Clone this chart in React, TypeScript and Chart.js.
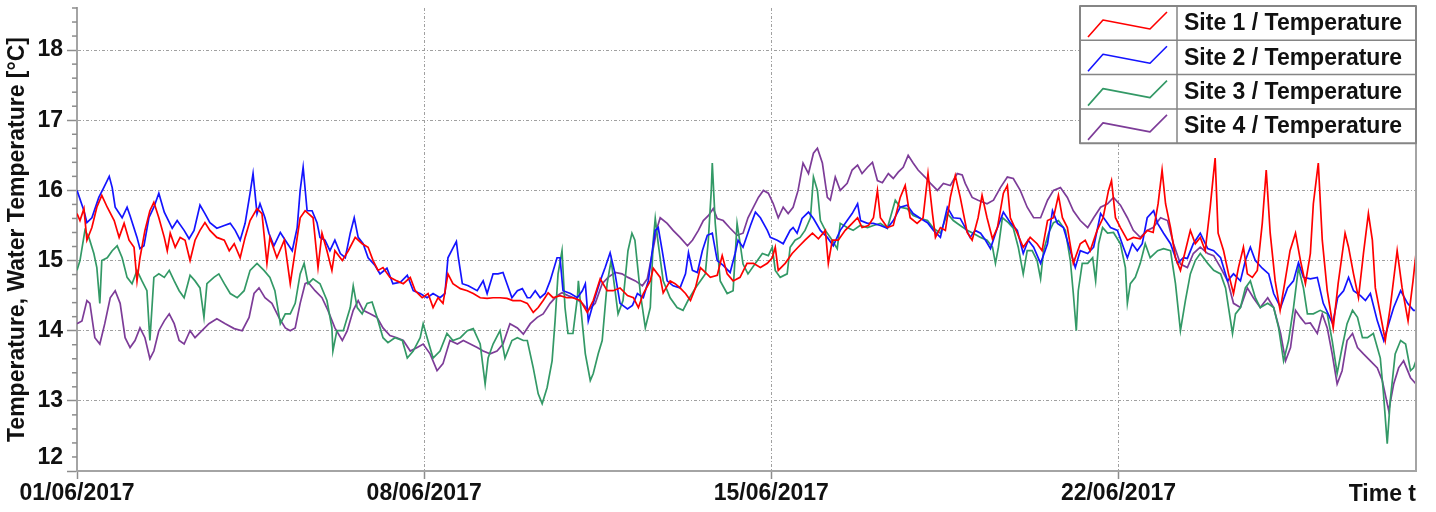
import { useEffect, useRef } from 'react';
import { Chart, registerables } from 'chart.js';

Chart.register(...registerables);

const FONT = "'Liberation Sans', Arial, Helvetica, sans-serif";

// x = days since 01/06/2017 00:00, y = temperature in °C
const xTickDays = [0, 7, 14, 21];
const xTickLabels = ['01/06/2017', '08/06/2017', '15/06/2017', '22/06/2017'];
const xAxisEndLabel = 'Time t';
const yTickValues = [12, 13, 14, 15, 16, 17, 18];
const yAxisTitle = 'Temperature, Water Temperature [°C]';
const seriesNames = ['Site 1 / Temperature', 'Site 2 / Temperature', 'Site 3 / Temperature', 'Site 4 / Temperature'];
const seriesColors = ['#ff0000', '#1414ff', '#339966', '#7d3c98'];

const site1 = [[0,15.67],[0.06,15.57],[0.14,15.74],[0.2,15.29],[0.3,15.47],[0.4,15.76],[0.5,15.93],[0.61,15.76],[0.75,15.57],[0.85,15.33],[0.95,15.53],[1.05,15.29],[1.15,15.19],[1.21,14.71],[1.27,15.04],[1.37,15.43],[1.47,15.71],[1.55,15.83],[1.65,15.61],[1.76,15.33],[1.82,15.14],[1.88,15.39],[1.98,15.19],[2.08,15.33],[2.18,15.29],[2.28,15.0],[2.38,15.29],[2.48,15.43],[2.58,15.54],[2.68,15.43],[2.82,15.33],[2.97,15.29],[3.07,15.14],[3.17,15.24],[3.29,15.04],[3.39,15.33],[3.49,15.57],[3.63,15.74],[3.73,15.67],[3.83,14.96],[3.89,15.33],[4.03,15.04],[4.18,15.29],[4.3,14.67],[4.4,15.14],[4.5,15.61],[4.6,15.71],[4.76,15.61],[4.86,14.9],[4.94,15.39],[5.04,15.14],[5.14,14.86],[5.2,15.14],[5.35,15.0],[5.47,15.14],[5.61,15.33],[5.75,15.24],[5.87,15.19],[5.97,15.0],[6.07,14.86],[6.17,14.9],[6.31,14.76],[6.45,14.71],[6.58,14.67],[6.72,14.76],[6.82,14.57],[6.96,14.47],[7.08,14.53],[7.18,14.33],[7.28,14.47],[7.38,14.39],[7.48,14.81],[7.58,14.67],[7.73,14.6],[7.87,14.57],[7.99,14.53],[8.13,14.47],[8.27,14.46],[8.39,14.47],[8.53,14.47],[8.67,14.46],[8.79,14.43],[8.94,14.43],[9.08,14.39],[9.2,14.26],[9.3,14.33],[9.4,14.43],[9.5,14.54],[9.6,14.47],[9.74,14.5],[9.88,14.47],[10.0,14.47],[10.15,14.43],[10.29,14.26],[10.41,14.43],[10.55,14.74],[10.69,14.57],[10.81,14.57],[10.95,14.61],[11.1,14.5],[11.22,14.47],[11.32,14.33],[11.42,14.53],[11.56,14.71],[11.62,14.89],[11.76,14.76],[11.82,14.54],[11.96,14.71],[12.06,14.67],[12.16,14.61],[12.27,14.53],[12.37,14.43],[12.47,14.61],[12.57,14.9],[12.67,14.83],[12.77,14.76],[12.91,14.79],[13.01,15.07],[13.11,14.81],[13.23,14.71],[13.37,14.76],[13.51,14.96],[13.64,14.96],[13.78,14.9],[13.92,14.96],[14.02,15.04],[14.08,15.19],[14.14,14.86],[14.28,14.96],[14.42,15.1],[14.54,15.19],[14.68,15.29],[14.83,15.39],[14.95,15.31],[15.09,15.43],[15.15,14.96],[15.23,15.29],[15.35,15.29],[15.49,15.43],[15.63,15.53],[15.74,15.61],[15.83,15.47],[15.96,15.5],[16.06,15.61],[16.14,16.0],[16.2,15.61],[16.34,15.47],[16.46,15.5],[16.6,15.9],[16.7,16.07],[16.8,15.61],[16.94,15.53],[17.06,15.61],[17.16,16.24],[17.25,15.67],[17.31,15.33],[17.41,15.47],[17.51,15.43],[17.61,15.9],[17.71,16.21],[17.81,15.9],[17.95,15.4],[18.05,15.29],[18.17,15.61],[18.25,15.93],[18.35,15.61],[18.46,15.31],[18.56,15.47],[18.68,15.96],[18.76,16.07],[18.82,15.61],[18.96,15.39],[19.08,15.19],[19.22,15.33],[19.36,15.24],[19.46,15.14],[19.57,15.57],[19.69,15.61],[19.79,15.93],[19.87,15.61],[19.97,15.47],[20.09,14.96],[20.23,15.24],[20.33,15.29],[20.43,15.14],[20.57,15.43],[20.69,15.61],[20.8,16.0],[20.86,16.14],[20.94,15.61],[21.04,15.47],[21.18,15.29],[21.3,15.33],[21.44,15.31],[21.58,15.43],[21.7,15.4],[21.8,15.81],[21.88,16.29],[21.95,15.81],[22.05,15.47],[22.15,15.04],[22.25,14.86],[22.35,15.14],[22.45,15.43],[22.55,15.24],[22.65,15.33],[22.75,15.14],[22.85,15.76],[22.91,16.19],[22.95,16.46],[23.01,15.39],[23.12,15.14],[23.22,14.81],[23.32,14.53],[23.42,14.9],[23.52,15.19],[23.6,14.81],[23.7,14.76],[23.8,14.86],[23.9,15.53],[23.98,16.29],[24.06,15.39],[24.16,14.71],[24.26,14.29],[24.36,14.71],[24.46,15.14],[24.57,15.39],[24.67,15.0],[24.77,14.67],[24.87,15.1],[24.93,15.81],[25.03,16.39],[25.11,15.29],[25.21,14.57],[25.33,14.04],[25.43,14.67],[25.57,15.39],[25.64,15.19],[25.74,14.81],[25.84,14.47],[25.94,15.1],[26.04,15.67],[26.12,15.29],[26.18,14.61],[26.28,14.24],[26.38,13.86],[26.48,14.33],[26.62,15.14],[26.72,14.61],[26.84,14.14],[26.94,14.71],[27,15.1]];

const site2 = [[0,16.0],[0.14,15.71],[0.2,15.54],[0.3,15.61],[0.44,15.9],[0.54,16.04],[0.65,16.2],[0.71,16.04],[0.77,15.76],[0.91,15.61],[1.01,15.76],[1.07,15.64],[1.21,15.33],[1.27,15.17],[1.35,15.21],[1.45,15.61],[1.55,15.76],[1.65,15.96],[1.76,15.69],[1.92,15.46],[2.02,15.57],[2.16,15.43],[2.26,15.31],[2.36,15.43],[2.48,15.79],[2.58,15.67],[2.68,15.54],[2.82,15.46],[2.97,15.5],[3.09,15.53],[3.19,15.43],[3.29,15.29],[3.39,15.53],[3.49,15.96],[3.55,16.24],[3.63,15.67],[3.69,15.81],[3.79,15.61],[3.87,15.39],[3.97,15.21],[4.1,15.4],[4.2,15.29],[4.34,15.14],[4.44,15.47],[4.5,16.0],[4.56,16.33],[4.64,15.71],[4.74,15.71],[4.84,15.54],[4.9,15.33],[5,15.29],[5.1,15.14],[5.2,15.29],[5.31,15.1],[5.41,15.04],[5.51,15.39],[5.59,15.61],[5.67,15.33],[5.77,15.24],[5.87,15.04],[6.01,14.93],[6.11,14.81],[6.25,14.89],[6.37,14.67],[6.52,14.69],[6.66,14.79],[6.78,14.57],[6.92,14.53],[7.06,14.47],[7.18,14.53],[7.32,14.47],[7.42,14.53],[7.48,15.04],[7.59,15.19],[7.65,15.27],[7.69,15.04],[7.77,14.67],[7.89,14.64],[8.07,14.57],[8.19,14.71],[8.27,14.53],[8.39,14.81],[8.49,14.81],[8.59,14.83],[8.67,14.67],[8.77,14.47],[8.88,14.57],[8.98,14.6],[9.08,14.47],[9.14,14.47],[9.24,14.57],[9.34,14.47],[9.44,14.53],[9.54,14.71],[9.68,15.04],[9.74,15.04],[9.8,14.57],[9.95,14.53],[10.09,14.47],[10.19,14.57],[10.25,14.67],[10.31,14.14],[10.41,14.39],[10.55,14.71],[10.65,14.9],[10.75,15.11],[10.85,14.81],[10.95,14.39],[11.1,14.31],[11.2,14.36],[11.3,14.53],[11.42,14.47],[11.52,14.71],[11.6,15.14],[11.66,15.43],[11.72,15.47],[11.8,15.14],[11.9,14.71],[12.02,14.64],[12.16,14.61],[12.27,14.81],[12.33,15.11],[12.41,14.86],[12.51,14.83],[12.61,15.14],[12.71,15.36],[12.81,15.39],[12.91,15.0],[13.03,14.93],[13.17,14.83],[13.27,15.1],[13.33,15.29],[13.43,15.19],[13.58,15.5],[13.68,15.69],[13.78,15.61],[13.92,15.43],[13.98,15.33],[14.12,15.29],[14.24,15.24],[14.38,15.43],[14.44,15.47],[14.52,15.39],[14.62,15.6],[14.75,15.69],[14.85,15.6],[14.99,15.43],[15.13,15.33],[15.25,15.21],[15.39,15.43],[15.53,15.57],[15.63,15.67],[15.74,15.81],[15.8,15.57],[15.94,15.53],[16.06,15.53],[16.2,15.5],[16.34,15.46],[16.46,15.57],[16.6,15.76],[16.74,15.79],[16.86,15.67],[17.01,15.6],[17.15,15.54],[17.27,15.43],[17.41,15.33],[17.55,15.76],[17.67,15.61],[17.81,15.6],[17.91,15.47],[18.01,15.33],[18.11,15.43],[18.22,15.39],[18.32,15.29],[18.42,15.17],[18.56,15.47],[18.68,15.69],[18.82,15.54],[18.96,15.43],[19.08,15.1],[19.18,15.29],[19.29,15.19],[19.43,14.96],[19.57,15.24],[19.67,15.71],[19.77,15.53],[19.89,15.47],[20.03,15.14],[20.13,14.9],[20.23,15.14],[20.38,15.1],[20.5,15.19],[20.64,15.67],[20.74,15.57],[20.84,15.47],[20.98,15.43],[21.1,15.19],[21.18,15.04],[21.28,15.24],[21.38,15.14],[21.48,15.24],[21.58,15.61],[21.71,15.71],[21.79,15.53],[21.91,15.39],[22.05,15.24],[22.19,14.96],[22.31,15.04],[22.39,15.03],[22.51,15.24],[22.65,15.39],[22.8,15.17],[22.92,15.14],[23.06,15.04],[23.2,14.71],[23.32,14.81],[23.46,14.71],[23.56,15.0],[23.66,15.19],[23.76,15.0],[23.9,14.89],[24.03,14.81],[24.13,14.53],[24.27,14.33],[24.41,14.61],[24.53,14.71],[24.63,14.97],[24.73,14.76],[24.87,14.74],[25.01,14.76],[25.13,14.39],[25.32,14.1],[25.42,14.47],[25.54,14.57],[25.64,14.76],[25.74,14.57],[25.88,14.5],[25.98,14.43],[26.08,14.53],[26.22,14.14],[26.35,13.86],[26.45,14.1],[26.55,14.33],[26.69,14.57],[26.83,14.39],[26.95,14.29],[27,14.29]];

const site3 = [[0,14.86],[0.06,15.0],[0.16,15.43],[0.24,15.33],[0.34,15.1],[0.4,14.9],[0.46,14.39],[0.5,15.0],[0.61,15.04],[0.71,15.14],[0.81,15.21],[0.91,15.04],[1.01,14.76],[1.11,14.67],[1.21,14.86],[1.31,14.71],[1.41,14.57],[1.47,13.86],[1.55,14.76],[1.65,14.81],[1.76,14.76],[1.86,14.86],[1.96,14.71],[2.06,14.57],[2.16,14.47],[2.28,14.79],[2.38,14.71],[2.48,14.61],[2.56,14.19],[2.62,14.67],[2.76,14.76],[2.86,14.81],[2.97,14.67],[3.09,14.53],[3.23,14.47],[3.37,14.57],[3.49,14.86],[3.63,14.96],[3.77,14.86],[3.89,14.76],[3.99,14.57],[4.1,14.1],[4.2,14.24],[4.3,14.24],[4.4,14.39],[4.5,14.81],[4.58,14.96],[4.66,14.67],[4.76,14.74],[4.9,14.67],[5.04,14.43],[5.14,14.04],[5.16,13.71],[5.24,14.0],[5.37,14.0],[5.51,14.33],[5.57,14.64],[5.65,14.33],[5.75,14.24],[5.85,14.39],[5.95,14.41],[6.05,14.19],[6.17,13.9],[6.27,13.83],[6.41,13.9],[6.56,13.86],[6.66,13.61],[6.78,13.71],[6.92,13.9],[6.98,14.1],[7.06,13.9],[7.18,13.61],[7.32,13.71],[7.46,13.96],[7.58,13.86],[7.73,13.9],[7.87,14.0],[7.99,14.03],[8.13,13.81],[8.23,13.24],[8.29,13.61],[8.39,13.81],[8.53,14.0],[8.63,13.61],[8.77,13.86],[8.88,13.9],[9.0,13.86],[9.08,13.86],[9.2,13.47],[9.3,13.1],[9.38,12.96],[9.48,13.19],[9.58,13.57],[9.64,14.14],[9.7,14.81],[9.78,15.14],[9.84,14.33],[9.9,13.96],[10.0,13.96],[10.09,14.47],[10.11,14.71],[10.19,14.1],[10.25,13.67],[10.35,13.29],[10.41,13.39],[10.51,13.67],[10.59,13.86],[10.69,14.67],[10.77,15.0],[10.85,14.57],[10.91,14.24],[11.01,14.43],[11.11,15.14],[11.19,15.39],[11.25,15.29],[11.36,14.53],[11.46,14.04],[11.56,14.33],[11.62,15.29],[11.66,15.6],[11.72,15.24],[11.82,14.71],[11.96,14.47],[12.1,14.33],[12.22,14.29],[12.32,14.43],[12.47,14.61],[12.57,14.71],[12.67,14.81],[12.73,15.29],[12.79,16.0],[12.81,16.39],[12.87,15.53],[12.97,14.71],[13.11,14.53],[13.23,14.57],[13.31,15.53],[13.37,15.25],[13.43,14.95],[13.53,14.81],[13.68,14.96],[13.82,15.1],[13.94,15.07],[14.02,15.19],[14.08,14.86],[14.18,14.76],[14.32,14.81],[14.38,15.19],[14.48,15.29],[14.58,15.33],[14.68,15.43],[14.79,15.61],[14.85,16.19],[14.93,16.0],[14.99,15.57],[15.09,15.43],[15.19,15.33],[15.33,15.17],[15.39,15.53],[15.53,15.47],[15.65,15.43],[15.79,15.5],[15.94,15.47],[16.06,15.5],[16.2,15.53],[16.34,15.46],[16.44,15.71],[16.5,15.86],[16.6,15.76],[16.74,15.74],[16.86,15.64],[17.01,15.6],[17.15,15.57],[17.27,15.46],[17.41,15.39],[17.55,15.67],[17.67,15.57],[17.81,15.5],[17.95,15.43],[18.07,15.39],[18.22,15.33],[18.35,15.29],[18.46,15.19],[18.52,14.96],[18.58,15.19],[18.66,15.61],[18.78,15.54],[18.88,15.46],[18.98,15.19],[19.08,14.81],[19.16,15.14],[19.26,15.14],[19.36,15.0],[19.43,14.74],[19.49,15.14],[19.59,15.39],[19.69,15.54],[19.79,15.57],[19.93,15.43],[20.03,15.0],[20.09,14.53],[20.15,14.0],[20.19,14.57],[20.27,14.96],[20.38,14.96],[20.48,15.04],[20.54,14.71],[20.6,15.24],[20.68,15.47],[20.78,15.39],[20.9,15.4],[21.04,15.24],[21.14,14.9],[21.18,14.39],[21.24,14.67],[21.34,14.76],[21.44,14.96],[21.54,15.24],[21.64,15.04],[21.79,15.14],[21.91,15.17],[22.05,15.14],[22.15,14.67],[22.25,14.0],[22.35,14.43],[22.45,14.81],[22.55,15.0],[22.65,15.1],[22.8,14.96],[22.92,14.86],[23.06,14.81],[23.16,14.61],[23.22,14.33],[23.3,13.96],[23.36,14.24],[23.46,14.33],[23.56,14.61],[23.66,14.71],[23.76,14.47],[23.86,14.33],[24.01,14.39],[24.13,14.33],[24.23,14.04],[24.33,13.57],[24.43,13.86],[24.53,14.33],[24.63,14.9],[24.73,14.61],[24.81,14.24],[24.93,14.24],[25.07,14.29],[25.21,14.24],[25.31,13.86],[25.41,13.39],[25.51,13.76],[25.61,14.1],[25.72,14.29],[25.82,14.19],[25.92,13.9],[26.02,13.9],[26.14,13.96],[26.28,13.61],[26.34,13.14],[26.42,12.39],[26.48,13.0],[26.58,13.67],[26.69,13.86],[26.79,13.81],[26.89,13.43],[26.95,13.47],[27,13.57]];

const site4 = [[0,14.1],[0.1,14.14],[0.2,14.43],[0.26,14.39],[0.36,13.9],[0.46,13.81],[0.56,14.1],[0.67,14.47],[0.77,14.57],[0.87,14.39],[0.97,13.9],[1.07,13.76],[1.17,13.86],[1.27,14.04],[1.37,13.9],[1.47,13.6],[1.55,13.71],[1.65,14.0],[1.76,14.14],[1.86,14.24],[1.96,14.1],[2.06,13.86],[2.16,13.81],[2.28,14.0],[2.38,13.9],[2.52,14.0],[2.66,14.1],[2.82,14.17],[2.99,14.1],[3.17,14.03],[3.33,14.0],[3.47,14.19],[3.57,14.53],[3.67,14.61],[3.79,14.47],[3.93,14.39],[4.07,14.19],[4.2,14.04],[4.3,14.0],[4.4,14.04],[4.5,14.39],[4.6,14.67],[4.66,14.69],[4.8,14.57],[4.94,14.47],[5.06,14.29],[5.2,14.04],[5.35,13.86],[5.45,14.0],[5.57,14.29],[5.67,14.43],[5.77,14.29],[5.91,14.24],[6.05,14.19],[6.17,14.04],[6.31,13.93],[6.45,13.9],[6.58,13.86],[6.72,13.71],[6.86,13.76],[6.98,13.81],[7.12,13.67],[7.26,13.43],[7.38,13.53],[7.52,13.86],[7.67,13.81],[7.79,13.86],[7.93,13.81],[8.07,13.76],[8.19,13.71],[8.33,13.67],[8.47,13.71],[8.59,13.81],[8.73,14.1],[8.88,14.04],[9.0,13.95],[9.14,14.1],[9.28,14.19],[9.4,14.24],[9.54,14.39],[9.68,14.5],[9.78,14.54],[9.9,14.5],[10.05,14.46],[10.19,14.39],[10.31,14.29],[10.45,14.39],[10.59,14.67],[10.71,14.76],[10.85,14.83],[10.99,14.81],[11.11,14.76],[11.26,14.71],[11.4,14.64],[11.5,14.74],[11.6,15.1],[11.7,15.47],[11.76,15.61],[11.9,15.53],[12.02,15.43],[12.16,15.33],[12.31,15.21],[12.41,15.29],[12.53,15.43],[12.63,15.57],[12.73,15.64],[12.83,15.74],[12.91,15.6],[13.03,15.57],[13.17,15.46],[13.31,15.36],[13.43,15.39],[13.53,15.61],[13.64,15.76],[13.74,15.9],[13.84,16.0],[13.94,15.96],[14.04,15.81],[14.14,15.61],[14.24,15.76],[14.34,15.67],[14.44,15.76],[14.54,16.0],[14.64,16.39],[14.75,16.24],[14.85,16.53],[14.93,16.6],[15.03,16.39],[15.13,15.9],[15.19,15.86],[15.29,16.19],[15.39,16.0],[15.53,16.1],[15.63,16.29],[15.74,16.36],[15.83,16.24],[15.94,16.33],[16.04,16.4],[16.14,16.14],[16.24,16.11],[16.36,16.24],[16.46,16.17],[16.56,16.26],[16.66,16.33],[16.76,16.5],[16.86,16.39],[16.96,16.29],[17.1,16.19],[17.21,16.1],[17.35,16.0],[17.47,16.1],[17.61,16.07],[17.75,16.24],[17.85,16.22],[17.91,16.1],[18.05,15.9],[18.17,15.86],[18.35,15.81],[18.48,15.86],[18.62,16.04],[18.76,16.19],[18.88,16.17],[19.02,16.0],[19.16,15.76],[19.29,15.61],[19.43,15.61],[19.57,15.86],[19.69,16.0],[19.83,16.04],[19.97,15.9],[20.09,15.71],[20.23,15.57],[20.38,15.47],[20.5,15.61],[20.64,15.76],[20.78,15.81],[20.9,15.9],[21.04,15.79],[21.18,15.61],[21.3,15.43],[21.44,15.33],[21.58,15.43],[21.7,15.47],[21.85,15.61],[21.99,15.57],[22.11,15.24],[22.25,14.95],[22.39,14.9],[22.51,15.1],[22.65,15.19],[22.8,15.1],[22.92,15.07],[23.06,14.9],[23.2,14.71],[23.32,14.39],[23.46,14.33],[23.6,14.61],[23.72,14.47],[23.86,14.33],[24.01,14.47],[24.13,14.33],[24.27,13.96],[24.37,13.57],[24.47,13.76],[24.57,14.29],[24.67,14.19],[24.77,14.1],[24.87,14.11],[25.01,13.96],[25.11,14.24],[25.21,14.04],[25.31,13.67],[25.41,13.24],[25.51,13.43],[25.61,13.86],[25.72,13.96],[25.82,13.76],[25.94,13.67],[26.08,13.57],[26.22,13.47],[26.32,13.29],[26.45,12.86],[26.55,13.24],[26.65,13.47],[26.75,13.57],[26.89,13.33],[27,13.24]];

const sites = [site1, site2, site3, site4];

const AXIS_GREY = '#a4a4a4';
const GRID_GREY = '#a0a0a0';
const TICK_GREY = '#8c8c8c';
const TEXT = '#111111';
const TRANSPARENT = 'rgba(0,0,0,0)';

const decorPlugin = {
  id: 'decor',
  afterDraw(chart: any) {
    const { ctx, chartArea: a, scales } = chart;
    const ys = scales.y;
    const xs = scales.x;
    ctx.save();
    // right frame line
    ctx.strokeStyle = AXIS_GREY;
    ctx.lineWidth = 2;
    ctx.beginPath();
    ctx.moveTo(a.right, a.top);
    ctx.lineTo(a.right, a.bottom + 1);
    ctx.stroke();
    // minor y ticks every 0.2
    ctx.strokeStyle = TICK_GREY;
    ctx.lineWidth = 1.5;
    for (let i = 0; i <= 33; i++) {
      if (i % 5 === 0) continue;
      const y = ys.getPixelForValue(12 + i * 0.2);
      ctx.beginPath();
      ctx.moveTo(a.left - 5, y);
      ctx.lineTo(a.left, y);
      ctx.stroke();
    }
    // lowest y label, lifted above the x axis
    ctx.font = `bold 23px ${FONT}`;
    ctx.fillStyle = TEXT;
    ctx.textAlign = 'right';
    ctx.textBaseline = 'middle';
    ctx.fillText(String(yTickValues[0]), a.left - 14, ys.getPixelForValue(yTickValues[0]) - 13);
    // x axis end label
    ctx.fillText(xAxisEndLabel, a.right, xs.top + 8 + 1 + 13.8 + 1);

    // legend table
    const L = a.right - 336;
    const T = a.top - 2;
    const rowH = 34.3;
    const div = L + 97;
    const n = chart.data.datasets.length;
    ctx.fillStyle = '#ffffff';
    ctx.fillRect(L, T, a.right - L, rowH * n);
    chart.data.datasets.forEach((ds: any, i: number) => {
      const rt = T + i * rowH;
      ctx.strokeStyle = ds.borderColor;
      ctx.lineWidth = 1.6;
      ctx.lineJoin = 'round';
      ctx.beginPath();
      ctx.moveTo(L + 8, rt + 31);
      ctx.lineTo(L + 23, rt + 14);
      ctx.lineTo(L + 70, rt + 23);
      ctx.lineTo(L + 87, rt + 6);
      ctx.stroke();
      ctx.fillStyle = TEXT;
      ctx.textAlign = 'left';
      ctx.textBaseline = 'middle';
      ctx.fillText(ds.label, div + 7, rt + rowH / 2 + 1);
    });
    ctx.strokeStyle = '#858585';
    ctx.lineWidth = 2;
    ctx.strokeRect(L, T, a.right - L, rowH * n);
    ctx.lineWidth = 1.5;
    for (let i = 1; i < n; i++) {
      ctx.beginPath();
      ctx.moveTo(L, T + i * rowH);
      ctx.lineTo(a.right, T + i * rowH);
      ctx.stroke();
    }
    ctx.beginPath();
    ctx.moveTo(div, T);
    ctx.lineTo(div, T + rowH * n);
    ctx.stroke();
    ctx.restore();
  },
};

export default function App() {
  const canvasRef = useRef<HTMLCanvasElement | null>(null);

  useEffect(() => {
    const canvas = canvasRef.current;
    if (!canvas) return;
    const tickFont = { family: FONT, size: 23, weight: 'bold' as const };
    const chart = new Chart(canvas, {
      type: 'line',
      data: {
        datasets: sites.map((s, i) => ({
          label: seriesNames[i],
          data: s.map(([x, y]) => ({ x, y })),
          borderColor: seriesColors[i],
          backgroundColor: seriesColors[i],
          borderWidth: 1.7,
          pointRadius: 0,
          tension: 0,
          fill: false,
        })),
      },
      options: {
        responsive: false,
        animation: false,
        events: [],
        layout: { padding: { top: 8, right: 20, left: 0, bottom: 0 } },
        plugins: {
          legend: { display: false },
          tooltip: { enabled: false },
        },
        scales: {
          x: {
            type: 'linear',
            min: 0,
            max: 27,
            afterBuildTicks: (scale: any) => {
              scale.ticks = xTickDays.map((v) => ({ value: v }));
            },
            afterFit: (scale: any) => {
              scale.height = 41;
              scale.paddingLeft = 0;
              scale.paddingRight = 0;
            },
            ticks: {
              autoSkip: false,
              maxRotation: 0,
              padding: 1,
              color: TEXT,
              font: tickFont,
              callback: (v: any) => {
                const idx = xTickDays.indexOf(Number(v));
                return idx >= 0 ? xTickLabels[idx] : '';
              },
            },
            grid: {
              color: (c: any) => (c.tick && c.tick.value === 0 ? TRANSPARENT : GRID_GREY),
              lineWidth: 1,
              tickLength: 8,
              tickColor: TICK_GREY,
              tickWidth: 1.5,
            },
            border: { color: AXIS_GREY, width: 2, dash: [3, 2, 1, 2] },
          },
          y: {
            type: 'linear',
            min: 12,
            max: 18.6,
            afterBuildTicks: (scale: any) => {
              scale.ticks = yTickValues.map((v) => ({ value: v }));
            },
            afterFit: (scale: any) => {
              scale.width = 77;
              scale.paddingTop = 0;
              scale.paddingBottom = 0;
            },
            ticks: {
              padding: 4,
              color: TEXT,
              font: tickFont,
              callback: (v: any) => (Number(v) === yTickValues[0] ? '' : String(v)),
            },
            grid: {
              color: (c: any) => (c.tick && c.tick.value === yTickValues[0] ? TRANSPARENT : GRID_GREY),
              lineWidth: 1,
              tickLength: 10,
              tickColor: TICK_GREY,
              tickWidth: 1.5,
            },
            border: { color: AXIS_GREY, width: 2, dash: [3, 2, 1, 2] },
            title: {
              display: true,
              text: yAxisTitle,
              color: TEXT,
              font: tickFont,
              padding: { top: 4, bottom: 0 },
            },
          },
        },
      },
      plugins: [decorPlugin],
    });
    return () => chart.destroy();
  }, []);

  return (
    <div style={{ position: 'absolute', left: 0, top: 0, width: 1436, height: 512, background: '#ffffff' }}>
      <canvas ref={canvasRef} width={1436} height={512} style={{ display: 'block' }} />
    </div>
  );
}
